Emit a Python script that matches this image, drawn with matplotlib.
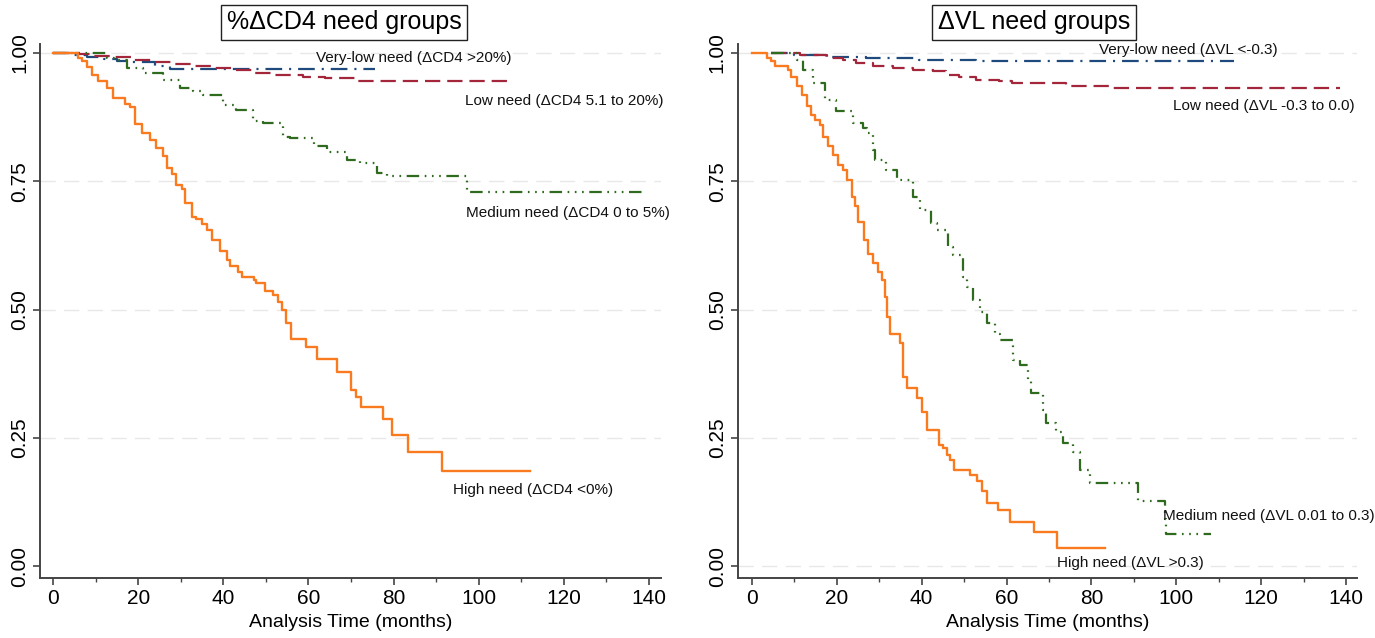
import matplotlib
matplotlib.use("Agg")
import matplotlib.pyplot as plt

plt.rcParams["font.family"] = ["Liberation Sans", "DejaVu Sans"]
plt.rcParams["lines.scale_dashes"] = False

# --- %dCD4 панель: время (мес) и доля выживших, ступеньки ---
cd4_high_t = [0, 5.9, 6.7, 7.9, 9.1, 10.6, 12.6, 14.2, 16.9, 18.1, 19.3, 20.8, 22.7, 24.3, 25.9,
              26.7, 27.9, 29.0, 30.2, 31.0, 32.6, 33.7, 34.9, 36.1, 37.3, 39.2, 40.8, 41.6, 43.5,
              44.5, 47.1, 47.6, 49.7, 51.7, 52.8, 53.8, 54.8, 55.9, 59.5, 62.1, 66.7, 70.1, 71.2,
              72.4, 77.6, 79.7, 83.3, 91.4, 112]
cd4_high_s = [1.0, 0.99, 0.984, 0.972, 0.958, 0.946, 0.932, 0.912, 0.901, 0.895, 0.862, 0.844,
              0.830, 0.814, 0.800, 0.776, 0.765, 0.742, 0.735, 0.707, 0.681, 0.677, 0.667, 0.655,
              0.636, 0.614, 0.596, 0.585, 0.574, 0.564, 0.558, 0.551, 0.537, 0.528, 0.515, 0.499,
              0.473, 0.443, 0.427, 0.404, 0.378, 0.344, 0.329, 0.310, 0.286, 0.256, 0.223, 0.185,
              0.185]
cd4_med_t = [0, 12.6, 14.9, 17.3, 21.2, 25.9, 29.8, 32.9, 35.3, 40, 43.1, 47, 49.4, 54, 55.7,
             61.2, 64.3, 69, 72.1, 76, 78.4, 97.2, 139.5]
cd4_med_s = [1.0, 0.99, 0.987, 0.971, 0.961, 0.948, 0.932, 0.925, 0.919, 0.899, 0.889, 0.867,
             0.863, 0.837, 0.834, 0.818, 0.808, 0.792, 0.785, 0.766, 0.76, 0.73, 0.73]
cd4_low_t = [0, 6, 9.3, 14, 18.9, 23.6, 28.3, 33, 37.7, 42.4, 47, 51.7, 58.7, 64, 71, 107.6]
cd4_low_s = [1.0, 0.998, 0.995, 0.992, 0.987, 0.983, 0.978, 0.974, 0.970, 0.966, 0.961, 0.958,
             0.954, 0.951, 0.946, 0.946]
cd4_vlow_t = [0, 5, 8, 12, 15, 17.5, 24, 27.5, 75.7]
cd4_vlow_s = [1.0, 0.996, 0.992, 0.989, 0.985, 0.982, 0.975, 0.968, 0.968]

# --- dVL панель ---
vl_high_t = [0, 3.5, 4.6, 5.4, 8.5, 9.3, 10.5, 11.7, 12.9, 14, 14.8, 16, 16.8, 18, 19.1, 20.3,
             21.5, 22.3, 23.5, 24.3, 25.1, 26.3, 27.4, 28.6, 29.8, 30.6, 31.4, 31.8, 32.6, 34.9,
             35.7, 36.5, 38.9, 40.1, 41.2, 44, 45.1, 45.9, 46.7, 47.6, 51.4, 53, 54.2, 55.4, 58.1,
             60.9, 66.4, 71.8, 83.3]
vl_high_s = [1.0, 0.99, 0.984, 0.975, 0.967, 0.954, 0.935, 0.919, 0.896, 0.880, 0.870, 0.860,
             0.837, 0.818, 0.801, 0.782, 0.772, 0.753, 0.720, 0.701, 0.671, 0.635, 0.609, 0.590,
             0.574, 0.557, 0.525, 0.486, 0.453, 0.434, 0.369, 0.347, 0.327, 0.301, 0.266, 0.236,
             0.230, 0.217, 0.207, 0.188, 0.178, 0.165, 0.146, 0.123, 0.110, 0.085, 0.067, 0.036,
             0.036]
vl_med_t = [4.6, 10.5, 12.1, 14.4, 17.2, 19.9, 23.9, 26.2, 27, 28.6, 28.9, 31.7, 34.1, 38, 39.6,
            42.3, 43.5, 46.2, 47.4, 49.8, 50.6, 52.2, 53.7, 55.3, 57.2, 58.4, 61.5, 63.1, 65.1,
            65.8, 68.6, 69.4, 71.7, 73.3, 75.6, 77.2, 79.6, 91, 97.3, 97.7, 108.2]
vl_med_s = [1.0, 0.987, 0.967, 0.941, 0.909, 0.886, 0.863, 0.854, 0.844, 0.811, 0.792, 0.772,
            0.753, 0.720, 0.694, 0.668, 0.655, 0.622, 0.606, 0.564, 0.544, 0.518, 0.495, 0.473,
            0.453, 0.440, 0.402, 0.392, 0.363, 0.337, 0.304, 0.278, 0.262, 0.240, 0.223, 0.188,
            0.162, 0.126, 0.091, 0.062, 0.062]
vl_low_t = [4.6, 11.3, 17.6, 21.5, 24.6, 28.6, 33.3, 38, 42.7, 45.8, 48.9, 52.8, 58.3, 61.4, 74,
            84.4, 138.6]
vl_low_s = [1.0, 0.997, 0.990, 0.987, 0.980, 0.975, 0.971, 0.967, 0.964, 0.958, 0.954, 0.948,
            0.945, 0.941, 0.936, 0.932, 0.932]
vl_vlow_t = [4.6, 10, 17.4, 26.8, 39.4, 52.8, 113.6]
vl_vlow_s = [1.0, 0.997, 0.993, 0.990, 0.986, 0.984, 0.984]

titles = ["%\u0394CD4 need groups", "\u0394VL need groups"]
cd4_labels = ["Very-low need (\u0394CD4 >20%)", "Low need (\u0394CD4 5.1 to 20%)",
              "Medium need (\u0394CD4 0 to 5%)", "High need (\u0394CD4 <0%)"]
vl_labels = ["Very-low need (\u0394VL <-0.3)", "Low need (\u0394VL -0.3 to 0.0)",
             "Medium need (\u0394VL 0.01 to 0.3)", "High need (\u0394VL >0.3)"]

# стили линий как в Stata
styles = {
    "vlow": {"color": "#1f4a7d", "linestyle": (0, (12, 5, 1.5, 5)), "lw": 1.6},
    "low":  {"color": "#a3263a", "linestyle": (0, (11, 5)), "lw": 1.6},
    "med":  {"color": "#2f6b1f", "linestyle": (0, (9, 4, 1.2, 4, 1.2, 4, 1.2, 4)), "lw": 1.6},
    "high": {"color": "#f97a1f", "linestyle": "-", "lw": 1.7},
}

fig = plt.figure(figsize=(13.75, 6.38), dpi=100)
ax1 = fig.add_axes([0.0291, 0.094, 0.4516, 0.837])
ax2 = fig.add_axes([0.5367, 0.094, 0.4502, 0.837])

panels = [
    (ax1, [(cd4_vlow_t, cd4_vlow_s, "vlow"), (cd4_low_t, cd4_low_s, "low"),
           (cd4_med_t, cd4_med_s, "med"), (cd4_high_t, cd4_high_s, "high")],
     cd4_labels, [(61.8, 0.990), (96.8, 0.906), (97.0, 0.688), (94.0, 0.148)],
     [0.25, 0.5, 0.75, 1.0], (-3.05, 142.8)),
    (ax2, [(vl_vlow_t, vl_vlow_s, "vlow"), (vl_low_t, vl_low_s, "low"),
           (vl_med_t, vl_med_s, "med"), (vl_high_t, vl_high_s, "high")],
     vl_labels, [(81.8, 1.006), (99.2, 0.897), (96.9, 0.097), (71.9, 0.006)],
     [0.0, 0.25, 0.5, 0.75, 1.0], (-3.3, 142.6)),
]

for ax, curves, labels, label_pos, grid_y, xlim in panels:
    for gy in grid_y:
        ax.axhline(gy, color="#e8e8e8", lw=1.0, linestyle=(0, (11, 6)), zorder=0)
    for t, s, key in curves:
        ax.step(t, s, where="post", **styles[key])
    for lab, (x, y) in zip(labels, label_pos):
        ax.text(x, y, lab, fontsize=11, ha="left", va="center", color="#111111")

    ax.set_xlim(*xlim)
    ax.set_ylim(-0.0234, 1.0175)
    ax.set_xticks(range(0, 141, 20))
    ax.set_xticks(range(10, 141, 20), minor=True)
    ax.set_yticks([0, 0.25, 0.5, 0.75, 1.0])
    ax.set_yticklabels(["0.00", "0.25", "0.50", "0.75", "1.00"], rotation=90, va="center")
    ax.tick_params(axis="both", which="major", labelsize=15, length=5, width=1.2,
                   color="#444444", pad=3)
    ax.tick_params(axis="x", which="minor", length=3, width=1.0, color="#444444")
    ax.set_xlabel("Analysis Time (months)", fontsize=14, labelpad=4)
    for side in ["top", "right"]:
        ax.spines[side].set_visible(False)
    for side in ["left", "bottom"]:
        ax.spines[side].set_color("#444444")
        ax.spines[side].set_linewidth(1.4)

# заголовки в рамке
for x, title in zip([344 / 1375, 1034 / 1375], titles):
    fig.text(x, 1 - 22.5 / 638, title, fontsize=18, ha="center", va="center",
             bbox=dict(boxstyle="square,pad=0.22", facecolor="white", edgecolor="#222222", lw=1.0))

fig.savefig("out.png", dpi=100)
